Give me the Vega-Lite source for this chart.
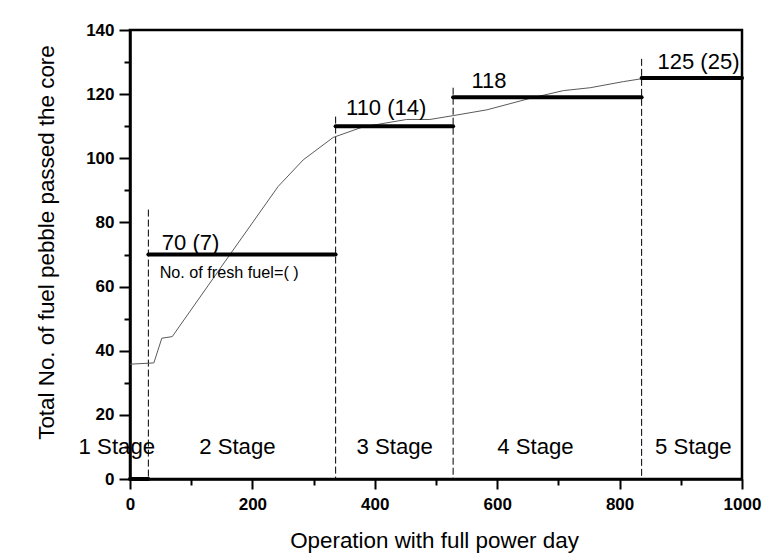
{
  "$schema": "https://vega.github.io/schema/vega-lite/v6.json",
  "autosize": "none",
  "width": 612,
  "height": 449,
  "padding": {"left": 130, "top": 30, "right": 36, "bottom": 81},
  "background": "white",
  "config": {
    "font": "Liberation Sans",
    "view": {"stroke": "black", "strokeWidth": 2.5},
    "axis": {"grid": false}
  },
  "datasets": {
    "curve": [
      {"day": 0, "n": 35.8}, {"day": 39, "n": 36.2}, {"day": 52, "n": 43.9}, {"day": 69, "n": 44.4},
      {"day": 163, "n": 69.9}, {"day": 242, "n": 91.2}, {"day": 283, "n": 99.5}, {"day": 332, "n": 106.5},
      {"day": 381, "n": 109.8}, {"day": 452, "n": 112.1}, {"day": 490, "n": 112.1}, {"day": 528, "n": 113.3},
      {"day": 583, "n": 115.1}, {"day": 654, "n": 118.7}, {"day": 708, "n": 121.1}, {"day": 752, "n": 122.0},
      {"day": 806, "n": 123.9}, {"day": 836, "n": 124.8}, {"day": 882, "n": 125.0}, {"day": 1000, "n": 125.0}
    ],
    "stages": [
      {"start": 0, "end": 30, "n": 0},
      {"start": 30, "end": 336, "n": 70},
      {"start": 336, "end": 528, "n": 110},
      {"start": 528, "end": 836, "n": 119},
      {"start": 836, "end": 1000, "n": 125}
    ],
    "bounds": [
      {"day": 30, "top": 84, "bottom": 0},
      {"day": 336, "top": 113, "bottom": 0},
      {"day": 528, "top": 122, "bottom": 0},
      {"day": 836, "top": 131, "bottom": 0}
    ],
    "values": [
      {"day": 52, "n": 71.5, "label": "70 (7)"},
      {"day": 353, "n": 113.4, "label": "110 (14)"},
      {"day": 558, "n": 122, "label": "118"},
      {"day": 862, "n": 127.7, "label": "125 (25)"}
    ],
    "note": [
      {"day": 48.5, "n": 62.8, "label": "No. of fresh fuel=( )"}
    ],
    "stageNames": [
      {"day": -84, "n": 7.8, "label": "1 Stage"},
      {"day": 113, "n": 7.8, "label": "2 Stage"},
      {"day": 370, "n": 7.8, "label": "3 Stage"},
      {"day": 600, "n": 7.8, "label": "4 Stage"},
      {"day": 858, "n": 7.8, "label": "5 Stage"}
    ]
  },
  "resolve": {"axis": {"x": "independent", "y": "independent"}},
  "layer": [
    {
      "data": {"name": "bounds"},
      "mark": {"type": "rule", "color": "black", "strokeWidth": 1, "strokeDash": [7, 3]},
      "encoding": {
        "x": {
          "field": "day", "type": "quantitative",
          "scale": {"domain": [0, 1000], "nice": false},
          "axis": {"orient": "bottom", "values": [100, 300, 500, 700, 900], "labels": false, "domain": false, "tickSize": 6, "tickWidth": 2, "tickColor": "black", "title": null}
        },
        "y": {
          "field": "top", "type": "quantitative",
          "scale": {"domain": [0, 140], "nice": false},
          "axis": {"orient": "left", "values": [10, 30, 50, 70, 90, 110, 130], "labels": false, "domain": false, "tickSize": 6, "tickWidth": 2, "tickColor": "black", "title": null}
        },
        "y2": {"field": "bottom"}
      }
    },
    {
      "data": {"name": "curve"},
      "mark": {"type": "line", "color": "#5a5a5a", "strokeWidth": 1},
      "encoding": {
        "x": {
          "field": "day", "type": "quantitative",
          "scale": {"domain": [0, 1000], "nice": false},
          "axis": {
            "orient": "bottom", "values": [0, 200, 400, 600, 800, 1000], "format": "d", "labelFlush": false,
            "domainColor": "black", "domainWidth": 2.5, "tickColor": "black", "tickWidth": 2, "tickSize": 10,
            "labelFontSize": 17, "labelFontWeight": "bold", "labelColor": "black", "labelPadding": 7,
            "title": "Operation with full power day", "titleFontSize": 22.4, "titleFontWeight": "normal",
            "titleColor": "black", "titleBaseline": "alphabetic", "titleY": 68, "titleX": 304
          }
        },
        "y": {
          "field": "n", "type": "quantitative",
          "scale": {"domain": [0, 140], "nice": false},
          "axis": {
            "orient": "left", "values": [0, 20, 40, 60, 80, 100, 120, 140], "format": "d", "labelFlush": false,
            "domainColor": "black", "domainWidth": 2.5, "tickColor": "black", "tickWidth": 2, "tickSize": 11,
            "labelFontSize": 17, "labelFontWeight": "bold", "labelColor": "black", "labelPadding": 5,
            "title": "Total No. of fuel pebble passed the core", "titleFontSize": 22.4, "titleFontWeight": "normal",
            "titleColor": "black", "titleAngle": -90, "titleBaseline": "alphabetic", "titleX": -77, "titleY": 212
          }
        }
      }
    },
    {
      "data": {"name": "stages"},
      "mark": {"type": "rule", "color": "black", "strokeWidth": 4, "strokeCap": "round"},
      "encoding": {
        "x": {"field": "start", "type": "quantitative", "scale": {"domain": [0, 1000], "nice": false}, "axis": null},
        "x2": {"field": "end"},
        "y": {"field": "n", "type": "quantitative", "scale": {"domain": [0, 140], "nice": false}, "axis": null}
      }
    },
    {
      "data": {"name": "values"},
      "mark": {"type": "text", "align": "left", "baseline": "alphabetic", "fontSize": 22, "color": "black"},
      "encoding": {
        "x": {"field": "day", "type": "quantitative", "scale": {"domain": [0, 1000], "nice": false}, "axis": null},
        "y": {"field": "n", "type": "quantitative", "scale": {"domain": [0, 140], "nice": false}, "axis": null},
        "text": {"field": "label"}
      }
    },
    {
      "data": {"name": "note"},
      "mark": {"type": "text", "align": "left", "baseline": "alphabetic", "fontSize": 16.2, "color": "black"},
      "encoding": {
        "x": {"field": "day", "type": "quantitative", "scale": {"domain": [0, 1000], "nice": false}, "axis": null},
        "y": {"field": "n", "type": "quantitative", "scale": {"domain": [0, 140], "nice": false}, "axis": null},
        "text": {"field": "label"}
      }
    },
    {
      "data": {"name": "stageNames"},
      "mark": {"type": "text", "align": "left", "baseline": "alphabetic", "fontSize": 22.2, "color": "black"},
      "encoding": {
        "x": {"field": "day", "type": "quantitative", "scale": {"domain": [0, 1000], "nice": false}, "axis": null},
        "y": {"field": "n", "type": "quantitative", "scale": {"domain": [0, 140], "nice": false}, "axis": null},
        "text": {"field": "label"}
      }
    }
  ]
}
